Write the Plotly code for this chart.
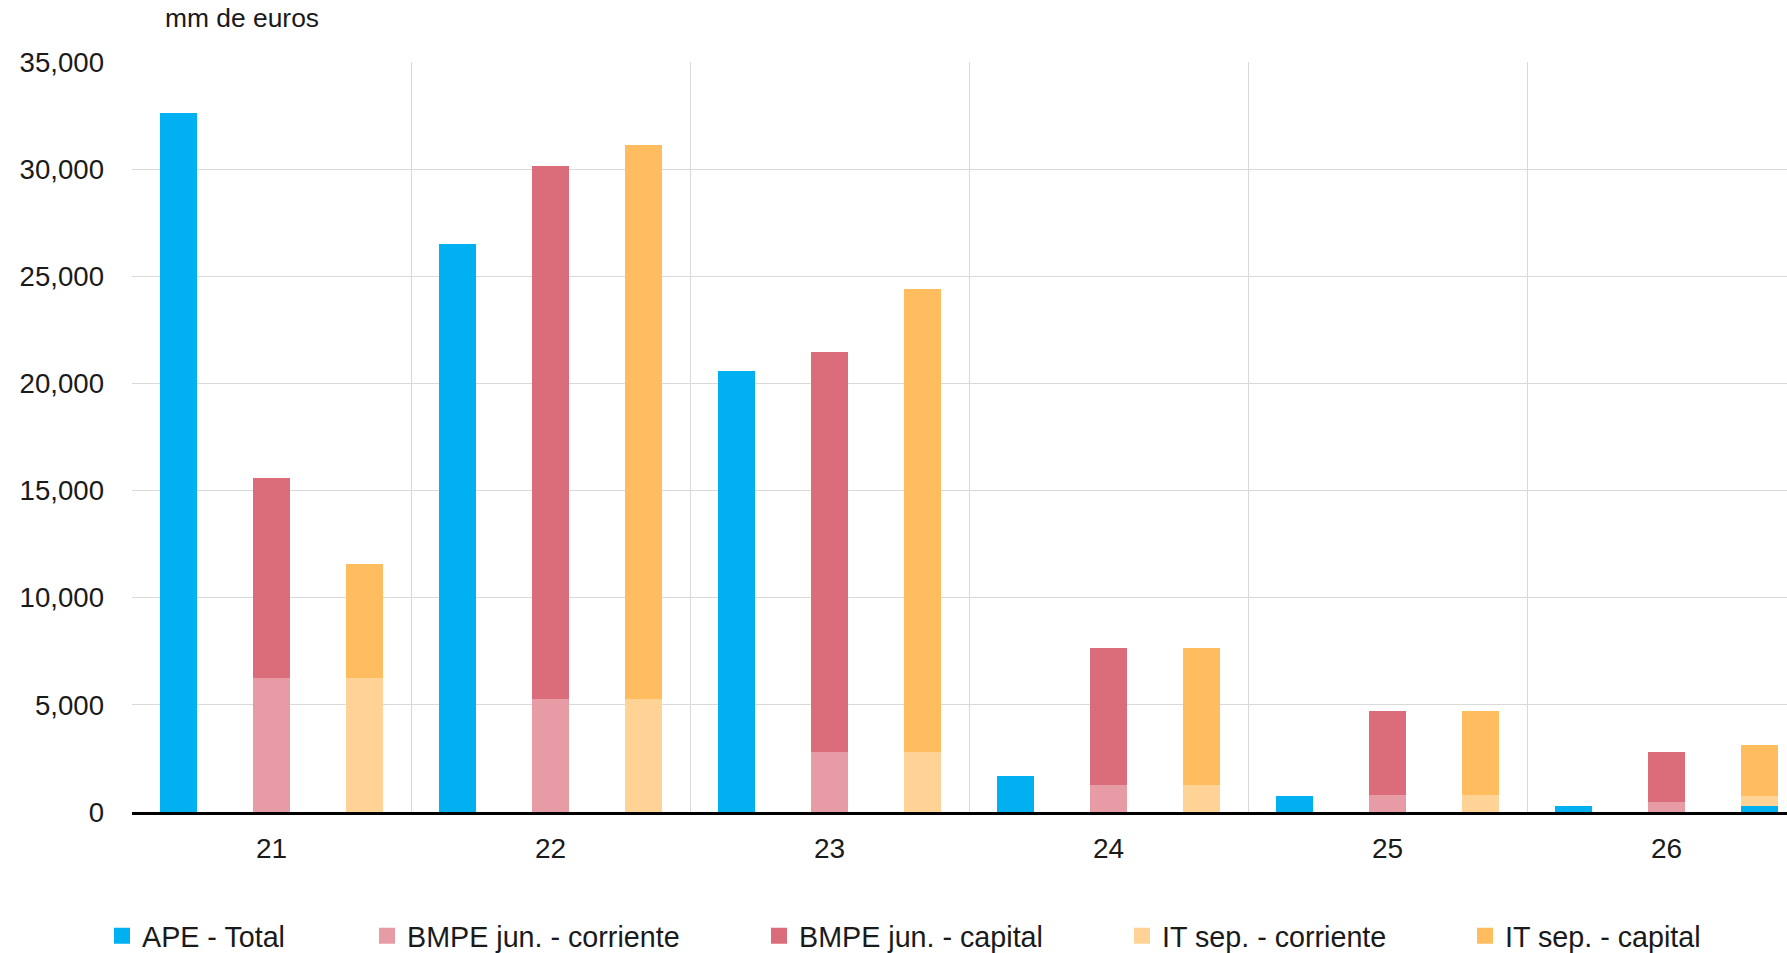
import plotly.graph_objects as go

# ---- data (mm de euros) ----
categories = ["21", "22", "23", "24", "25", "26"]
ape_total = [32600, 26500, 20600, 1700, 740, 300]
bmpe_corriente = [6270, 5260, 2810, 1270, 800, 470]
bmpe_capital = [9330, 24900, 18640, 6380, 3930, 2350]
it_corriente = [6270, 5260, 2810, 1270, 800, 750]
it_capital = [5310, 25860, 21620, 6380, 3930, 2380]
ape_overlap_it = [0, 0, 0, 0, 0, 300]  # blue segment drawn at foot of last IT bar

y_ticks = [0, 5000, 10000, 15000, 20000, 25000, 30000, 35000]

C_APE = "#00B0F0"
C_BC = "#E79CA5"
C_BK = "#DB6C7A"
C_IC = "#FFD395"
C_IK = "#FFBD5F"

FONT = "Liberation Sans"
TXT = "#1a1a1a"
W = 0.1326
fig = go.Figure()

def add_bar(y, base, color, off):
    fig.add_trace(go.Bar(x=categories, y=y, base=base, marker=dict(color=color, line=dict(width=0)),
                         width=W, offset=off, showlegend=False, hoverinfo="skip"))

add_bar(ape_total, None, C_APE, -0.335 - W / 2)
add_bar(bmpe_corriente, None, C_BC, 0.0 - W / 2)
add_bar(bmpe_capital, bmpe_corriente, C_BK, 0.0 - W / 2)
add_bar(it_corriente, None, C_IC, 0.333 - W / 2)
add_bar(it_capital, it_corriente, C_IK, 0.333 - W / 2)
add_bar(ape_overlap_it, None, C_APE, 0.333 - W / 2)

legend_names = ["APE - Total", "BMPE jun. - corriente", "BMPE jun. - capital",
                "IT sep. - corriente", "IT sep. - capital"]
legend_colors = [C_APE, C_BC, C_BK, C_IC, C_IK]
legend_px = [114, 379, 771, 1134, 1477]  # left edge of marker in pixels

L, R, T, B = 132, 0, 62, 141
PW = 1787 - L - R
layout_legends = {}
for i, (nm, col, px) in enumerate(zip(legend_names, legend_colors, legend_px)):
    key = "legend" if i == 0 else f"legend{i+1}"
    fig.add_trace(go.Scatter(x=[None], y=[None], mode="markers", name=nm,
                             marker=dict(symbol="square", size=16, color=col),
                             legend=key, showlegend=True))
    layout_legends[key] = dict(
        orientation="h", xref="container", x=(px - 12) / 1787, xanchor="left",
        yref="container", y=1 - 936 / 953, yanchor="middle",
        bgcolor="rgba(0,0,0,0)", font=dict(family=FONT, size=28.7, color=TXT),
        itemclick=False, itemdoubleclick=False)

fig.update_layout(
    width=1787, height=953, autosize=False,
    margin=dict(l=L, r=R, t=T, b=B, pad=0),
    paper_bgcolor="white", plot_bgcolor="white",
    barmode="overlay", bargap=0,
    font=dict(family=FONT, size=28, color=TXT),
    xaxis=dict(type="category", range=[-0.5, -0.5 + PW / 279.0], tickson="boundaries",
               showgrid=True, gridcolor="#D9D9D9", gridwidth=1,
               showline=True, linecolor="black", linewidth=3,
               ticks="", ticklabelstandoff=9, tickfont=dict(family=FONT, size=28, color=TXT),
               zeroline=False, fixedrange=True),
    yaxis=dict(range=[0, 35000], tickvals=y_ticks, tickformat=",d",
               showgrid=True, gridcolor="#D9D9D9", gridwidth=1, zeroline=False,
               showline=False, ticks="", ticklabelstandoff=27,
               tickfont=dict(family=FONT, size=27.6, color=TXT), fixedrange=True),
    annotations=[dict(text="mm de euros", xref="paper", yref="paper",
                      x=(163 - L) / PW, xanchor="left", y=1 + (62 - 18) / 750, yanchor="middle",
                      showarrow=False, font=dict(family=FONT, size=26.4, color=TXT))],
    **layout_legends,
)

fig.write_html("out.html")
